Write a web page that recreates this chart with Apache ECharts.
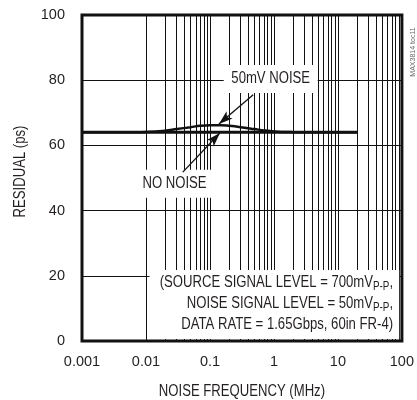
<!DOCTYPE html>
<html><head><meta charset="utf-8">
<script src="https://cdn.jsdelivr.net/npm/echarts@6/dist/echarts.min.js"></script>
<style>html,body{margin:0;padding:0;background:#fff}#c{width:417px;height:400px}</style>
</head><body><div id="c"></div>
<script>
// ---- data ----
const xTickLabels = ['0.001', '0.01', '0.1', '1', '10', '100'];
const yTickLabels = ['0', '20', '40', '60', '80', '100'];
const minorGridX = [0.002,0.003,0.004,0.005,0.006,0.007,0.008,0.009,
  0.02,0.03,0.04,0.05,0.06,0.07,0.08,0.09,
  0.2,0.3,0.4,0.5,0.6,0.7,0.8,0.9,
  2,3,4,5,6,7,8,9,
  20,30,40,50,60,70,80,90];
const noNoiseFreq = [0.001, 20];
const noNoiseResidual = [64, 64];
const noiseFreq = [0.001, 0.005, 0.01, 0.02, 0.03, 0.05, 0.07, 0.1, 0.15, 0.2, 0.3, 0.5, 0.7, 1, 2, 3, 20];
const noiseResidual = [64, 64, 64.1, 64.5, 65, 65.6, 66, 66.2, 66.2, 66, 65.6, 65, 64.6, 64.3, 64.05, 64, 64];

const FONT = '"Liberation Sans", Arial, sans-serif';
const TXT = '#231f20';
const SX = 0.82; // horizontal condensing of the label font
const zip = (a, b) => a.map((v, i) => [v, b[i]]);

const chart = echarts.init(document.getElementById('c'), null, {renderer: 'canvas'});
const option = {
  animation: false,
  backgroundColor: '#fff',
  textStyle: {fontFamily: FONT, color: TXT},
  grid: {left: 82, right: 8, top: 15, bottom: 59, show: true, borderWidth: 3, borderColor: '#111', backgroundColor: 'transparent', containLabel: false},
  xAxis: {
    type: 'log', logBase: 10, min: 0.001, max: 100,
    axisLine: {show: false}, axisTick: {show: false},
    axisLabel: {fontSize: 14.5, color: TXT, fontFamily: FONT, margin: 13, formatter: (v, i) => xTickLabels[i]},
    splitLine: {show: true, lineStyle: {color: '#111', width: 1}},
    minorTick: {show: false}
  },
  yAxis: {
    type: 'value', min: 0, max: 100, interval: 20,
    axisLine: {show: false}, axisTick: {show: false},
    axisLabel: {fontSize: 14.5, color: TXT, fontFamily: FONT, margin: 17, formatter: (v, i) => yTickLabels[i]},
    splitLine: {show: true, lineStyle: {color: '#111', width: 1}}
  },
  series: [
    {
      type: 'line', name: 'grid', data: [], z: 1, silent: true,
      markLine: {
        silent: true, symbol: ['none', 'none'], animation: false, z: 1,
        label: {show: false},
        lineStyle: {color: '#111', width: 1, type: 'solid'},
        data: minorGridX.map(v => ({xAxis: v}))
      }
    },
    {
      type: 'line', name: 'NO NOISE', data: zip(noNoiseFreq, noNoiseResidual), z: 3,
      showSymbol: false, symbol: 'none', lineStyle: {color: '#111', width: 3}
    },
    {
      type: 'line', name: '50mV NOISE', data: zip(noiseFreq, noiseResidual), z: 4,
      showSymbol: false, symbol: 'none', smooth: 0.4, lineStyle: {color: '#111', width: 2.5}
    },
    {
      type: 'line', name: 'arrows', data: [], z: 60,
      markLine: {
        silent: true, animation: false, z: 60,
        symbol: ['none', 'arrow'], symbolSize: [7, 14],
        label: {show: false},
        lineStyle: {color: '#111', width: 1.3, type: 'solid'},
        data: [
          [{coord: [0.474, 75.5]}, {coord: [0.138, 66.6]}],
          [{coord: [0.0376, 51.8]}, {coord: [0.143, 63.8]}]
        ]
      }
    }
  ]
};
chart.setOption(option);

// annotations anchored in data coordinates
const P = (x, y) => chart.convertToPixel({gridIndex: 0}, [x, y]);
function box(cx, cy, w, h) { return {type: 'rect', z: 50, shape: {x: cx - w / 2, y: cy - h / 2, width: w, height: h}, style: {fill: '#fff'}}; }
function label(cx, cy, t, rot) {
  return {type: 'text', z: 51, x: cx, y: cy, scaleX: SX, scaleY: 1, rotation: rot || 0,
    style: {text: t, fill: TXT, font: '16px ' + FONT, align: 'center', verticalAlign: 'middle'}};
}

const l1 = P(0.89, 80.4);
const l2 = P(0.0279, 48.2);
const noteTL = P(0.01135, 21.8);
const noteBR = P(90.6, 0);
const noteR = P(72.8, 21.8);
const xMid = P(0.3162, 0);
const yMid = P(0.001, 52);

const graphics = [
  box(l1[0], l1[1], 94, 28), label(l1[0], l1[1], '50mV NOISE'),
  box(l2[0], l2[1], 73, 28), label(l2[0], l2[1], 'NO NOISE'),
  {type: 'rect', z: 50, shape: {x: noteTL[0], y: noteTL[1], width: noteBR[0] - noteTL[0], height: noteBR[1] - noteTL[1] - 2}, style: {fill: '#fff'}},
  {type: 'text', z: 51, x: noteR[0], y: noteR[1] + 2, scaleX: SX, style: {
    text: '{t|(SOURCE SIGNAL LEVEL = 700mV}{s|P-P}{t|,}\n{t|NOISE SIGNAL LEVEL = 50mV}{s|P-P}{t|,}\n{t|DATA RATE = 1.65Gbps, 60in FR-4)}',
    align: 'right', verticalAlign: 'top', fill: TXT,
    rich: {
      t: {fontSize: 16, fontFamily: FONT, fill: TXT, lineHeight: 21},
      s: {fontSize: 12, fontFamily: FONT, fill: TXT, lineHeight: 14, verticalAlign: 'bottom'}
    }
  }},
  label(xMid[0], xMid[1] + 51, 'NOISE FREQUENCY (MHz)'),
  label(yMid[0] - 61, yMid[1], 'RESIDUAL (ps)', Math.PI / 2),
  {type: 'text', z: 51, x: 413, y: 52, rotation: Math.PI / 2, style: {text: 'MAX3814 toc11', fill: '#666', font: '7px ' + FONT, align: 'center', verticalAlign: 'middle'}}
];
chart.setOption({graphic: graphics});
</script>
</body></html>
